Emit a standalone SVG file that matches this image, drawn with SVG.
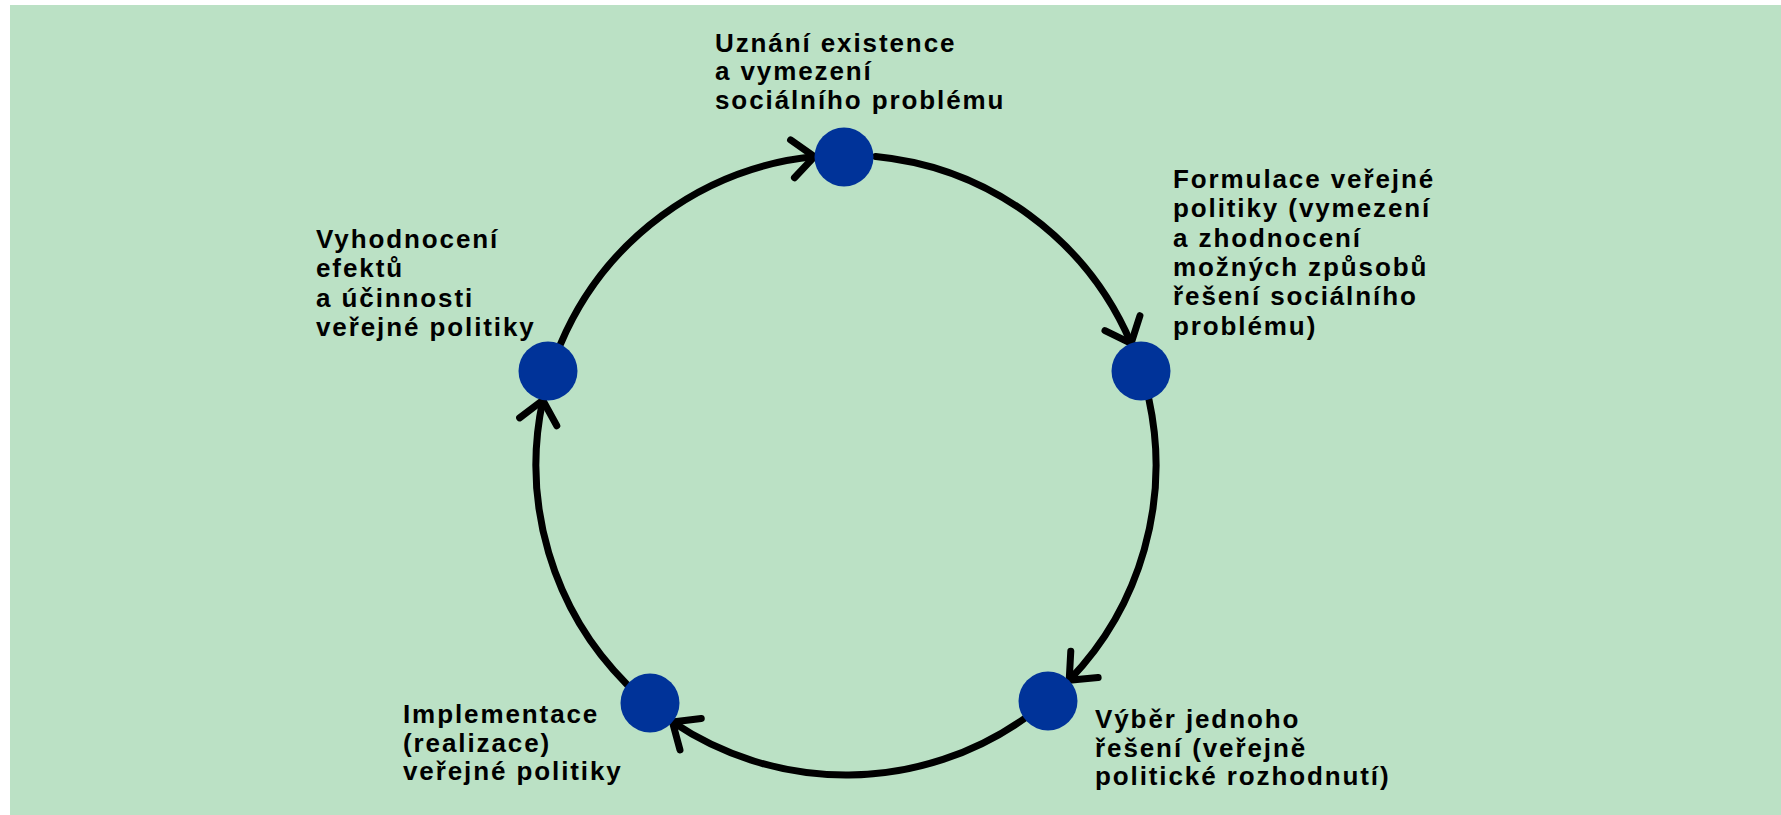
<svg xmlns="http://www.w3.org/2000/svg" width="1781" height="815" viewBox="0 0 1781 815">
<defs>
<style>
.bg{fill:#bbe1c5}
.node{fill:#003399}
.arc{fill:none;stroke:#000;stroke-width:7;stroke-linecap:round}
.lbl{font-family:"Liberation Sans",Arial,sans-serif;font-weight:bold;font-size:26px;letter-spacing:1.9px;fill:#000}
.head{fill:none;stroke:#000;stroke-width:7;stroke-linecap:round;stroke-linejoin:round}
</style>
<marker id="arr" markerUnits="userSpaceOnUse" orient="auto" refX="0" refY="0" markerWidth="60" markerHeight="60" viewBox="-30 -30 60 60" overflow="visible">
<path class="head" d="M-22,-19 L0,0 L-22,19"/>
</marker>
</defs>
<rect class="bg" x="10" y="5" width="1771" height="810"/>
<g id="connectors">
<path class="arc" marker-end="url(#arr)" d="M875.7,156.4 A310,310 0 0 1 1131.1,343.4"/>
<path class="arc" marker-end="url(#arr)" d="M1148.9,399.2 A310,310 0 0 1 1069.2,680.2"/>
<path class="arc" marker-end="url(#arr)" d="M1024.5,718.5 A310,310 0 0 1 672.4,721.9"/>
<path class="arc" marker-end="url(#arr)" d="M627,684.4 A310,310 0 0 1 542.8,400.3"/>
<path class="arc" marker-end="url(#arr)" d="M560.5,344.1 A310,310 0 0 1 814.4,156.6"/>
</g>
<g id="node-uznani">
<circle class="node" cx="844" cy="157" r="29.5"/>
<text class="lbl"><tspan x="715" y="51.7">Uznání existence</tspan><tspan x="715" y="80.2">a vymezení</tspan><tspan x="715" y="108.7">sociálního problému</tspan></text>
</g>
<g id="node-formulace">
<circle class="node" cx="1141" cy="371" r="29.5"/>
<text class="lbl"><tspan x="1173" y="188">Formulace veřejné</tspan><tspan x="1173" y="217.3">politiky (vymezení</tspan><tspan x="1173" y="246.6">a zhodnocení</tspan><tspan x="1173" y="275.9">možných způsobů</tspan><tspan x="1173" y="305.2">řešení sociálního</tspan><tspan x="1173" y="334.5">problému)</tspan></text>
</g>
<g id="node-vyber">
<circle class="node" cx="1048" cy="701" r="29.5"/>
<text class="lbl"><tspan x="1095" y="728">Výběr jednoho</tspan><tspan x="1095" y="756.5">řešení (veřejně</tspan><tspan x="1095" y="785">politické rozhodnutí)</tspan></text>
</g>
<g id="node-implementace">
<circle class="node" cx="650" cy="703" r="29.5"/>
<text class="lbl"><tspan x="403" y="723">Implementace</tspan><tspan x="403" y="751.5">(realizace)</tspan><tspan x="403" y="780">veřejné politiky</tspan></text>
</g>
<g id="node-vyhodnoceni">
<circle class="node" cx="548" cy="371" r="29.5"/>
<text class="lbl"><tspan x="316" y="248">Vyhodnocení</tspan><tspan x="316" y="277.3">efektů</tspan><tspan x="316" y="306.6">a účinnosti</tspan><tspan x="316" y="335.9">veřejné politiky</tspan></text>
</g>
</svg>
